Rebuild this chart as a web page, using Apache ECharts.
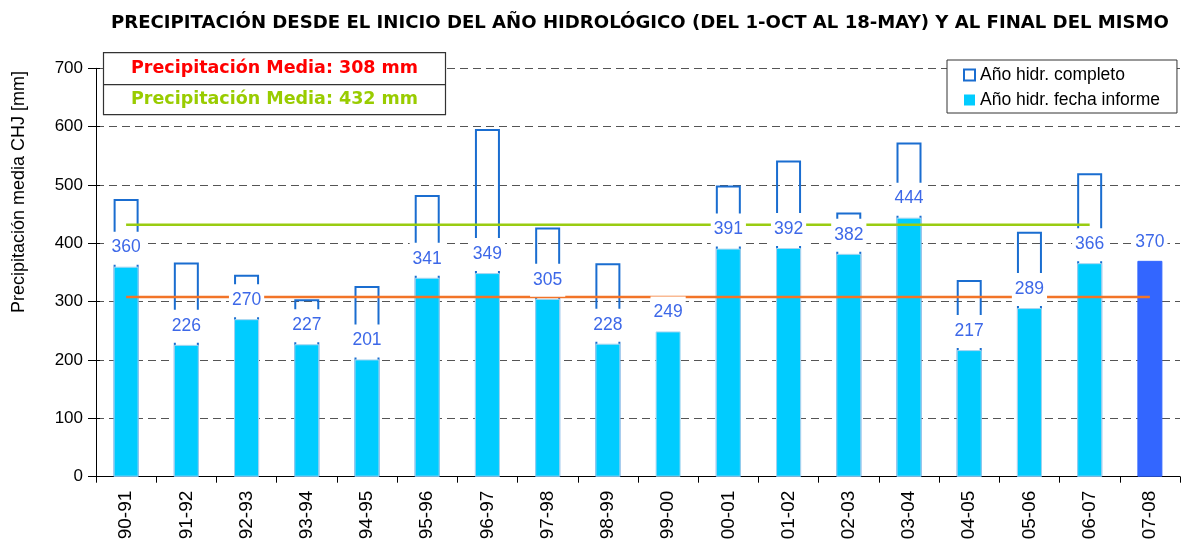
<!DOCTYPE html>
<html>
<head>
<meta charset="utf-8">
<script src="https://cdn.jsdelivr.net/npm/echarts@6/dist/echarts.min.js"></script>
<style>
  html, body { margin: 0; padding: 0; background: #fff; }
  #main { width: 1186px; height: 545px; }
</style>
</head>
<body>
<div id="main"></div>
<script>
var myChart = echarts.init(document.getElementById('main'));

// años hidrológicos
var categories = ['90-91', '91-92', '92-93', '93-94', '94-95', '95-96', '96-97', '97-98', '98-99',
  '99-00', '00-01', '01-02', '02-03', '03-04', '04-05', '05-06', '06-07', '07-08'];

// precipitación año hidrológico completo (mm)
var completo = [476, 367, 346, 304, 327, 483, 596, 427, 366, null, 499, 542, 453, 573, 337, 420, 520, null];

// precipitación hasta la fecha del informe (mm)
var fechaInforme = [360, 226, 270, 227, 201, 341, 349, 305, 228, 249, 391, 392, 382, 444, 217, 289, 366, 370];

// medias
var mediaFecha = 308;
var mediaCompleto = 432;

// eje y
var yTicks = [0, 100, 200, 300, 400, 500, 600, 700];

var lineaFecha = categories.map(function () { return mediaFecha; });
var lineaCompleto = categories.map(function (c, i) { return i < categories.length - 1 ? mediaCompleto : null; });

// el año en curso va en azul oscuro
var barData = fechaInforme.map(function (v, i) {
  if (i === fechaInforme.length - 1) {
    return { value: v, itemStyle: { color: '#3366ff', borderColor: '#3366ff' } };
  }
  return v;
});

var option = {
  animation: false,
  title: {
    text: 'PRECIPITACIÓN DESDE EL INICIO DEL AÑO HIDROLÓGICO (DEL 1-OCT AL 18-MAY) Y AL FINAL DEL MISMO',
    left: 106,
    top: 9,
    textStyle: {
      fontFamily: 'DejaVu Sans',
      fontWeight: 'bold',
      fontSize: 18.1,
      color: '#000'
    }
  },
  legend: {
    orient: 'vertical',
    left: 947,
    top: 60,
    padding: [6, 17, 4, 16],
    itemWidth: 11,
    itemHeight: 11,
    itemGap: 7,
    backgroundColor: '#fff',
    borderColor: '#333',
    borderWidth: 1,
    textStyle: {
      fontFamily: 'Liberation Sans',
      fontSize: 17.5,
      lineHeight: 14,
      color: '#000'
    },
    data: [
      { name: 'Año hidr. completo', icon: 'rect', itemStyle: { color: '#fff', borderColor: '#1a6dd0', borderWidth: 2 } },
      { name: 'Año hidr. fecha informe', icon: 'rect', itemStyle: { color: '#00ccff', borderWidth: 0 } }
    ]
  },
  grid: {
    left: 96,
    right: 6,
    top: 68.3,
    bottom: 68.3
  },
  xAxis: {
    type: 'category',
    data: categories,
    boundaryGap: true,
    axisLine: { lineStyle: { color: '#000', width: 1 } },
    axisTick: { show: true, length: 6, lineStyle: { color: '#000' } },
    axisLabel: {
      rotate: 90,
      margin: 14,
      fontFamily: 'Liberation Sans',
      fontSize: 19,
      color: '#000'
    }
  },
  yAxis: [{
    type: 'value',
    min: yTicks[0],
    max: yTicks[yTicks.length - 1],
    interval: 100,
    axisLine: { show: true, lineStyle: { color: '#000', width: 1 } },
    axisTick: { show: true, length: 8, lineStyle: { color: '#000' } },
    axisLabel: {
      margin: 13,
      fontFamily: 'Liberation Sans',
      fontSize: 17,
      color: '#000'
    },
    splitLine: {
      show: true,
      lineStyle: { color: '#555', type: [8, 5], width: 1 }
    }
  }, { // marcas hacia dentro del eje
    type: 'value',
    position: 'left',
    min: yTicks[0],
    max: yTicks[yTicks.length - 1],
    interval: 100,
    axisLine: { show: false },
    axisTick: { show: true, inside: true, length: 4, lineStyle: { color: '#000' } },
    axisLabel: { show: false },
    splitLine: { show: false }
  }],
  series: [
    { // año completo, solo contorno
      name: 'Año hidr. completo',
      type: 'bar',
      data: completo,
      barWidth: 25,
      barGap: '-100%',
      z: 2,
      itemStyle: { color: 'rgba(0,0,0,0)', borderColor: '#1a6dd0', borderWidth: 2 }
    },
    { // hasta la fecha del informe
      name: 'Año hidr. fecha informe',
      type: 'bar',
      data: barData,
      barWidth: 25,
      barGap: '-100%',
      z: 3,
      itemStyle: { color: '#00ccff', borderColor: '#a9d6f0', borderWidth: 1 }
    },
    { // media a la fecha
      name: 'media fecha',
      type: 'line',
      data: lineaFecha,
      symbol: 'none',
      z: 4,
      silent: true,
      lineStyle: { color: '#f27428', width: 2.5 }
    },
    { // media año completo
      name: 'media completo',
      type: 'line',
      data: lineaCompleto,
      symbol: 'none',
      z: 4,
      silent: true,
      lineStyle: { color: '#99cc11', width: 2.5 }
    },
    { // etiquetas con fondo blanco por encima de todo
      name: 'etiquetas',
      type: 'bar',
      data: fechaInforme,
      barWidth: 25,
      barGap: '-100%',
      z: 5,
      silent: true,
      itemStyle: { color: 'rgba(0,0,0,0)' },
      label: {
        show: true,
        position: 'top',
        distance: 2,
        backgroundColor: '#fff',
        padding: [7, 3, 8, 3],
        fontFamily: 'Liberation Sans',
        fontSize: 17.5,
        color: '#3d68e8'
      }
    }
  ],
  graphic: [
    { // nombre del eje y
      type: 'text',
      x: 19,
      y: 192,
      rotation: Math.PI / 2,
      style: {
        text: 'Precipitación media CHJ [mm]',
        fontFamily: 'Liberation Sans',
        fontSize: 18,
        fill: '#000',
        textAlign: 'center',
        textVerticalAlign: 'middle'
      }
    },
    { // cuadro de medias
      type: 'group',
      left: 101,
      top: 52,
      z: 100,
      children: [
        { type: 'rect', z: 100, shape: { x: 0, y: 0, width: 342, height: 62 }, style: { fill: '#fff', stroke: '#333', lineWidth: 1.2 } },
        { type: 'line', z: 101, shape: { x1: 0, y1: 32, x2: 342, y2: 32 }, style: { stroke: '#333', lineWidth: 1.2 } },
        { type: 'text', z: 101, x: 171, y: 16, style: { text: 'Precipitación Media: 308 mm', fontFamily: 'DejaVu Sans', fontWeight: 'bold', fontSize: 17.5, fill: '#ff0000', textAlign: 'center', textVerticalAlign: 'middle' } },
        { type: 'text', z: 101, x: 171, y: 47, style: { text: 'Precipitación Media: 432 mm', fontFamily: 'DejaVu Sans', fontWeight: 'bold', fontSize: 17.5, fill: '#99cc00', textAlign: 'center', textVerticalAlign: 'middle' } }
      ]
    }
  ]
};

myChart.setOption(option);
</script>
</body>
</html>
